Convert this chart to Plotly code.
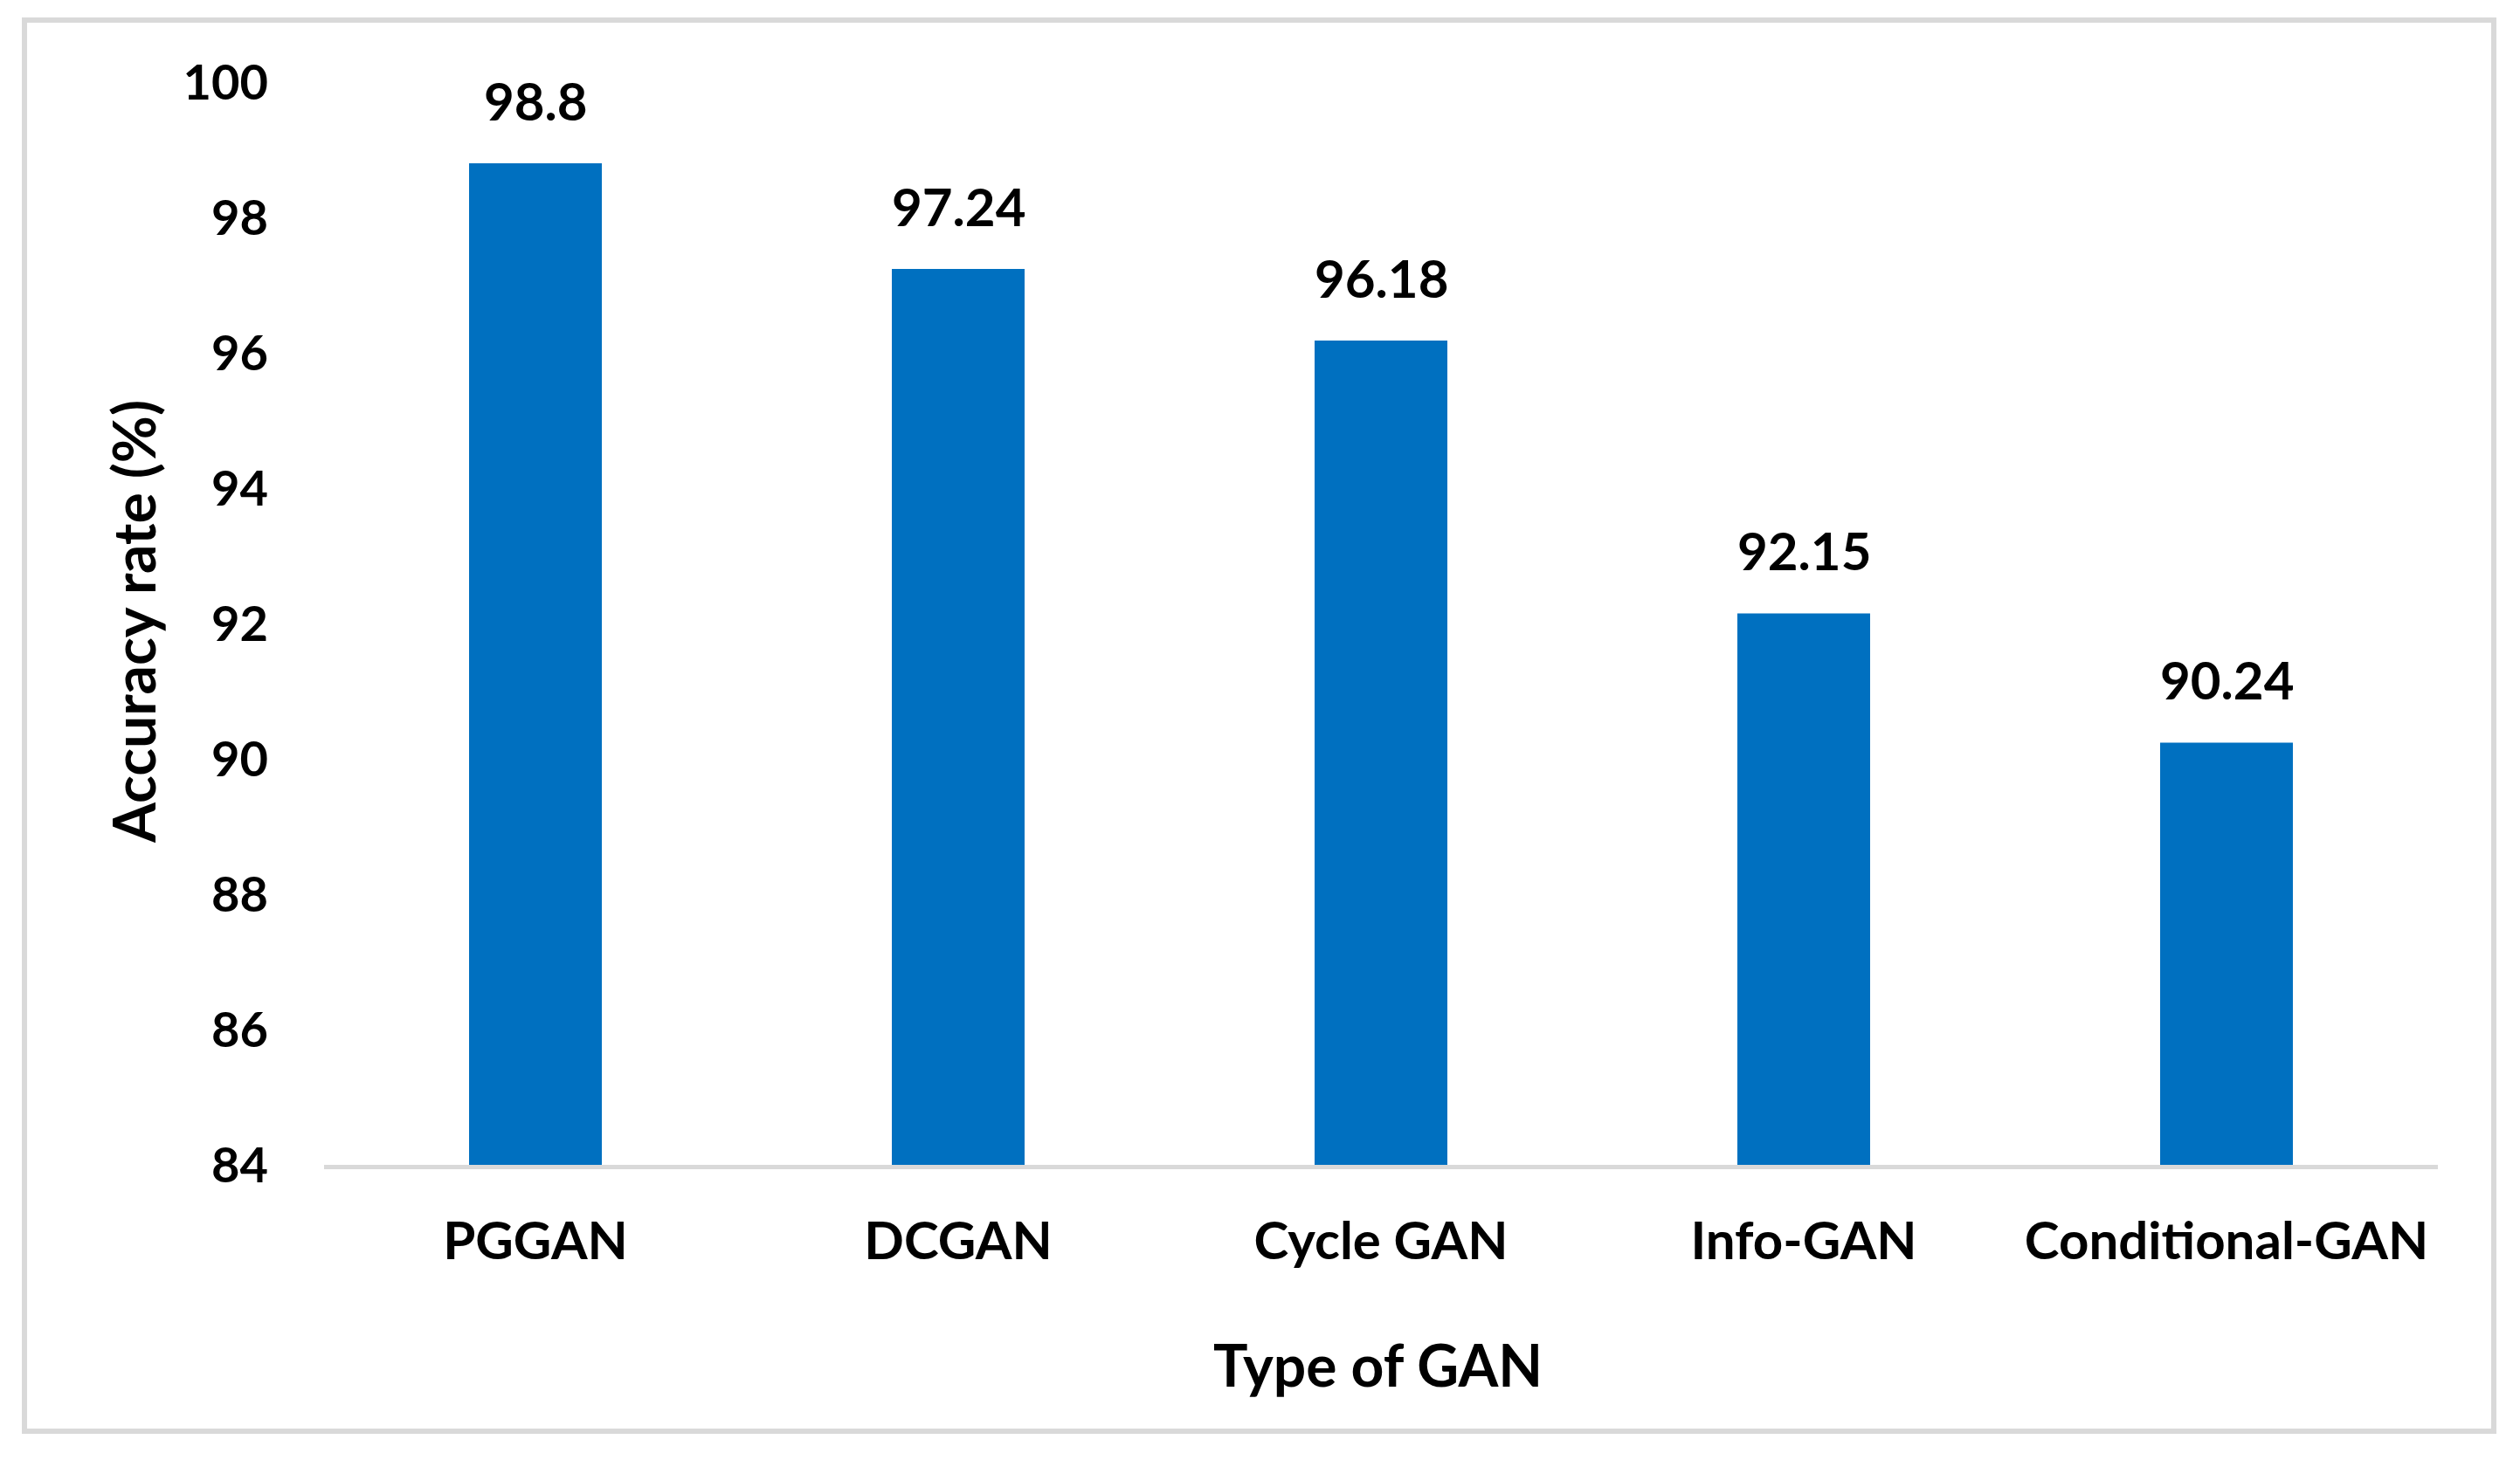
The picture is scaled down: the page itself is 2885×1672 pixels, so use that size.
import plotly.graph_objects as go

categories = ["PGGAN", "DCGAN", "Cycle GAN", "Info-GAN", "Conditional-GAN"]
accuracy = [98.8, 97.24, 96.18, 92.15, 90.24]
value_labels = ["98.8", "97.24", "96.18", "92.15", "90.24"]
y_ticks = [84, 86, 88, 90, 92, 94, 96, 98, 100]

W, H = 2885, 1672
L, R, T, B = 371, 94, 94, 338
FONT = "Lato"

fig = go.Figure()
fig.add_trace(go.Bar(
    x=categories, y=accuracy,
    marker=dict(color="#0070C0", line=dict(width=0)),
    hoverinfo="x+y",
))

for c, v, t in zip(categories, accuracy, value_labels):
    fig.add_annotation(x=c, y=v, text=t, showarrow=False, yanchor="bottom",
                       yshift=34, font=dict(family=FONT, size=60, color="black", weight="bold"))

pw = W - L - R
ph = H - T - B
fig.add_shape(type="rect", xref="paper", yref="paper",
              x0=(28 - L) / pw, x1=(2855 - L) / pw,
              y0=(H - B - 1639) / ph, y1=(H - B - 23) / ph,
              line=dict(color="#d9d9d9", width=6), layer="below")

# axis titles
fig.add_annotation(xref="paper", yref="paper", x=(1577 - L) / pw, y=(H - B - 1562) / ph,
                   text="Type of GAN", showarrow=False, xanchor="center", yanchor="middle",
                   font=dict(family=FONT, size=66, color="black", weight="bold"))
fig.add_annotation(xref="paper", yref="paper", x=(152 - L) / pw, y=(H - B - 712) / ph,
                   text="Accuracy rate (%)", showarrow=False, textangle=-90,
                   xanchor="center", yanchor="middle",
                   font=dict(family=FONT, size=66, color="black", weight="bold"))

fig.update_layout(
    width=W, height=H,
    margin=dict(l=L, r=R, t=T, b=B, autoexpand=False),
    paper_bgcolor="white", plot_bgcolor="white",
    bargap=0.686, showlegend=False,
    font=dict(family=FONT, color="black"),
)
fig.update_xaxes(showgrid=False, showline=True, linecolor="#d9d9d9", linewidth=5,
                 ticks="", ticklabelstandoff=31,
                 tickfont=dict(family=FONT, size=60, color="black", weight="bold"))
fig.update_yaxes(range=[84, 100], tickvals=y_ticks, showgrid=False, showline=False,
                 zeroline=False, ticks="", ticklabelstandoff=63,
                 tickfont=dict(family=FONT, size=56, color="black", weight="bold"))

fig.write_html("out.html", config={"displayModeBar": False},
               post_script="document.body.style.margin='0';")
